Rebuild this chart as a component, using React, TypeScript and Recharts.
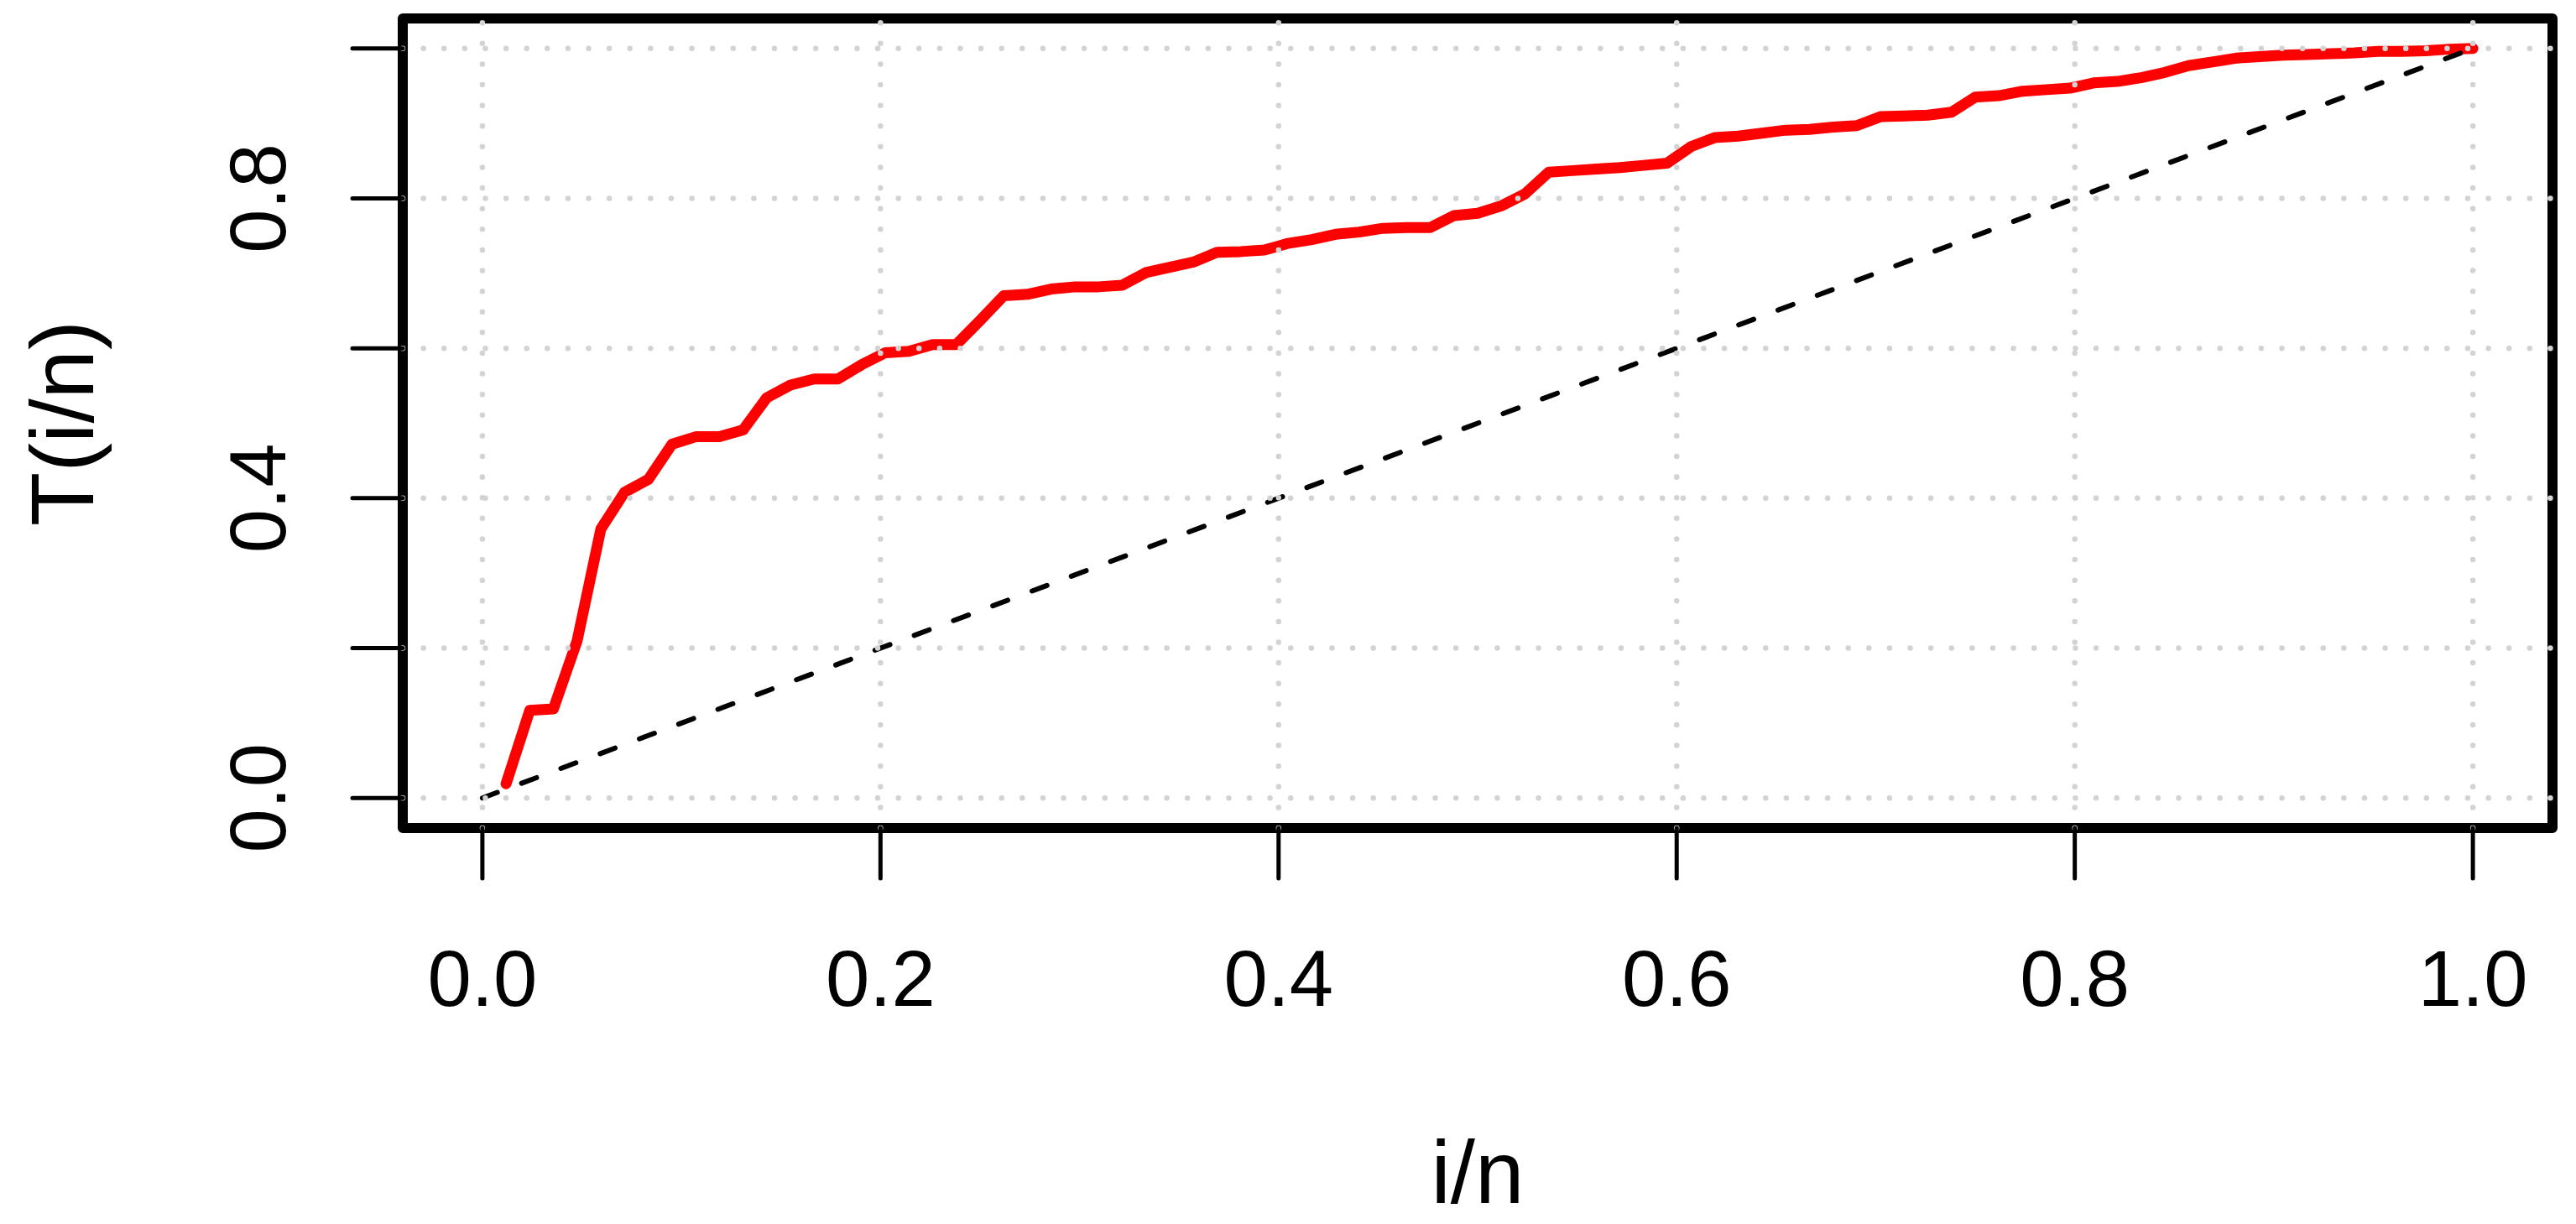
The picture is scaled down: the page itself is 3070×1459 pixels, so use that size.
import React from 'react';
import { LineChart, Line, XAxis, YAxis, ReferenceLine, ReferenceArea, Label } from 'recharts';

// T(i/n), i = 1..84
const tValues = [
  0.019, 0.117, 0.119, 0.21, 0.359, 0.408, 0.425, 0.472, 0.482, 0.482,
  0.491, 0.534, 0.551, 0.559, 0.559, 0.578, 0.594, 0.596, 0.605, 0.605,
  0.637, 0.67, 0.672, 0.679, 0.682, 0.682, 0.684, 0.701, 0.708, 0.715,
  0.728, 0.729, 0.731, 0.74, 0.745, 0.752, 0.755, 0.76, 0.761, 0.761,
  0.777, 0.78, 0.79, 0.806, 0.835, 0.837, 0.839, 0.841, 0.844, 0.847,
  0.869, 0.881, 0.883, 0.887, 0.891, 0.892, 0.895, 0.897, 0.909, 0.91,
  0.911, 0.915, 0.935, 0.937, 0.943, 0.945, 0.947, 0.954, 0.956, 0.961,
  0.968, 0.977, 0.982, 0.987, 0.989, 0.991, 0.992, 0.993, 0.994, 0.996,
  0.996, 0.997, 0.999, 1.0,
];

const diagonal = [
  { x: 0, y: 0 },
  { x: 1, y: 1 },
];

const xTicks = [0, 0.2, 0.4, 0.6, 0.8, 1.0];
const xTickLabels = ['0.0', '0.2', '0.4', '0.6', '0.8', '1.0'];
const yTicks = [0, 0.2, 0.4, 0.6, 0.8, 1.0];
const yTickLabels = ['0.0', '', '0.4', '', '0.8', ''];
const gridValues = [0, 0.2, 0.4, 0.6, 0.8, 1.0];

const n = tValues.length;
const curve = tValues.map((t, i) => ({ x: (i + 1) / n, t }));

const FONT = '"Liberation Sans", Arial, Helvetica, sans-serif';
const TICK_FS = 94;
const TITLE_FS = 105;
const DOMAIN: [number, number] = [-0.04, 1.04];

function XTick(props: any) {
  const { x, y, payload } = props;
  const idx = xTicks.indexOf(payload.value);
  return (
    <text x={x} y={y + 152} textAnchor="middle" fontFamily={FONT} fontSize={TICK_FS} fill="#000">
      {xTickLabels[idx]}
    </text>
  );
}

function YTick(props: any) {
  const { x, y, payload } = props;
  const idx = yTicks.indexOf(payload.value);
  const label = yTickLabels[idx];
  if (!label) return null;
  return (
    <text
      transform={`translate(${x - 80}, ${y}) rotate(-90)`}
      textAnchor="middle"
      fontFamily={FONT}
      fontSize={TICK_FS}
      fill="#000"
    >
      {label}
    </text>
  );
}

function XTitle(props: any) {
  const vb = props.viewBox || { x: 480, y: 987, width: 2562, height: 472 };
  return (
    <text x={vb.x + vb.width / 2} y={1434} textAnchor="middle" fontFamily={FONT} fontSize={TITLE_FS} fill="#000">
      i/n
    </text>
  );
}

function YTitle(props: any) {
  const vb = props.viewBox || { x: 0, y: 22, width: 480, height: 965 };
  const cy = vb.y + vb.height / 2;
  return (
    <text
      transform={`translate(111, ${cy}) rotate(-90)`}
      textAnchor="middle"
      fontFamily={FONT}
      fontSize={TITLE_FS}
      fill="#000"
    >
      T(i/n)
    </text>
  );
}

export default function App() {
  const tickLine = { stroke: '#000', strokeWidth: 5, strokeLinecap: 'round' as const };
  const gridStyle = {
    stroke: '#D3D3D3',
    strokeWidth: 6.5,
    strokeDasharray: '0.01 24.6',
    strokeLinecap: 'round' as const,
  };
  return (
    <div style={{ width: 3070, height: 1459, background: '#fff' }}>
      <style>{'body{margin:0;background:#fff}'}</style>
      <LineChart width={3070} height={1459} margin={{ top: 22, right: 28, bottom: 0, left: 0 }}>
        <XAxis
          type="number"
          dataKey="x"
          domain={DOMAIN}
          allowDataOverflow
          ticks={xTicks}
          interval={0}
          height={472}
          tickSize={60}
          tickMargin={0}
          axisLine={false}
          tickLine={tickLine}
          tick={<XTick />}
        >
          <Label content={<XTitle />} />
        </XAxis>
        <YAxis
          type="number"
          domain={DOMAIN}
          allowDataOverflow
          ticks={yTicks}
          interval={0}
          width={480}
          tickSize={60}
          tickMargin={0}
          axisLine={false}
          tickLine={tickLine}
          tick={<YTick />}
        >
          <Label content={<YTitle />} />
        </YAxis>
        <Line
          data={curve}
          dataKey="t"
          type="linear"
          stroke="#FF0000"
          strokeWidth={13}
          strokeLinecap="round"
          strokeLinejoin="round"
          dot={false}
          isAnimationActive={false}
        />
        <Line
          data={diagonal}
          dataKey="y"
          type="linear"
          stroke="#000"
          strokeWidth={6}
          strokeDasharray="19 31"
          strokeLinecap="round"
          dot={false}
          isAnimationActive={false}
        />
        {gridValues.map((v) => (
          <ReferenceLine key={`gx${v}`} x={v} {...gridStyle} />
        ))}
        {gridValues.map((v) => (
          <ReferenceLine key={`gy${v}`} y={v} {...gridStyle} />
        ))}
        <ReferenceArea
          x1={DOMAIN[0]}
          x2={DOMAIN[1]}
          y1={DOMAIN[0]}
          y2={DOMAIN[1]}
          fill="none"
          fillOpacity={0}
          stroke="#000"
          strokeWidth={12}
          strokeLinejoin="round"
          ifOverflow="visible"
        />
      </LineChart>
    </div>
  );
}
